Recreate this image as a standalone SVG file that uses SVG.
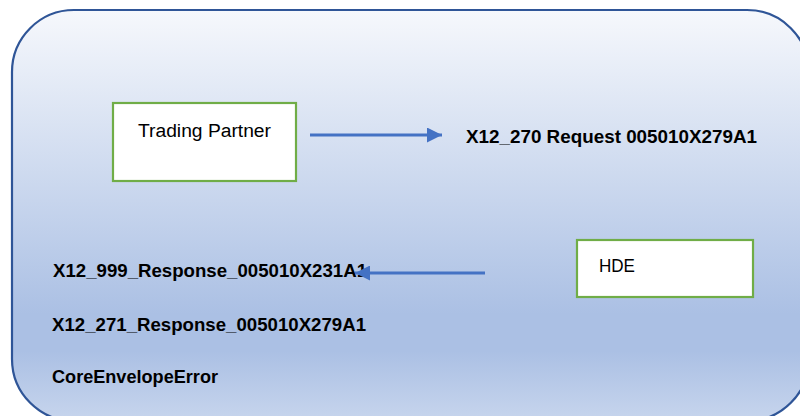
<svg xmlns="http://www.w3.org/2000/svg" width="800" height="416" viewBox="0 0 800 416">
  <defs>
    <linearGradient id="panelFill" x1="0" y1="0" x2="0" y2="1">
      <stop offset="0" stop-color="#F6F8FC"/>
      <stop offset="0.74" stop-color="#ABC0E4"/>
      <stop offset="0.83" stop-color="#ABC0E4"/>
      <stop offset="1" stop-color="#C7D5ED"/>
    </linearGradient>
    <marker id="arrowHead" viewBox="0 0 10 10" refX="10" refY="5" markerWidth="5" markerHeight="5" markerUnits="strokeWidth" orient="auto">
      <path d="M0,0 L10,5 L0,10 Z" fill="#4472C4"/>
    </marker>
    <style>
      .node { fill: #FFFFFF; stroke: #70AD47; stroke-width: 2.2; }
      .label { font-family: "Liberation Sans", Arial, sans-serif; font-size: 18px; fill: #000000; }
      .msg { font-family: "Liberation Sans", Arial, sans-serif; font-size: 18px; font-weight: bold; fill: #000000; }
      .link { stroke: #4472C4; stroke-width: 3; fill: none; }
    </style>
  </defs>

  <!-- background panel -->
  <rect id="panel" x="12" y="10" width="797" height="411" rx="62" ry="62" fill="url(#panelFill)" stroke="#2F5597" stroke-width="2.2"/>

  <g id="trading-partner">
    <rect class="node" x="113" y="103" width="183" height="78"/>
    <text class="label" x="138" y="137" textLength="133" lengthAdjust="spacingAndGlyphs">Trading Partner</text>
  </g>

  <g id="hde">
    <rect class="node" x="577" y="240" width="176" height="57"/>
    <text class="label" x="599" y="272" textLength="36" lengthAdjust="spacingAndGlyphs">HDE</text>
  </g>

  <g id="messages">
    <text class="msg" x="466" y="143" textLength="291" lengthAdjust="spacingAndGlyphs">X12_270 Request 005010X279A1</text>
    <text class="msg" x="53" y="277" textLength="314" lengthAdjust="spacingAndGlyphs">X12_999_Response_005010X231A1</text>
    <text class="msg" x="52" y="331" textLength="314" lengthAdjust="spacingAndGlyphs">X12_271_Response_005010X279A1</text>
    <text class="msg" x="52" y="383" textLength="166" lengthAdjust="spacingAndGlyphs">CoreEnvelopeError</text>
  </g>

  <g id="connectors">
    <line class="link" x1="310" y1="135" x2="442" y2="135" marker-end="url(#arrowHead)"/>
    <line class="link" x1="485" y1="273" x2="355" y2="273" marker-end="url(#arrowHead)"/>
  </g>
</svg>
